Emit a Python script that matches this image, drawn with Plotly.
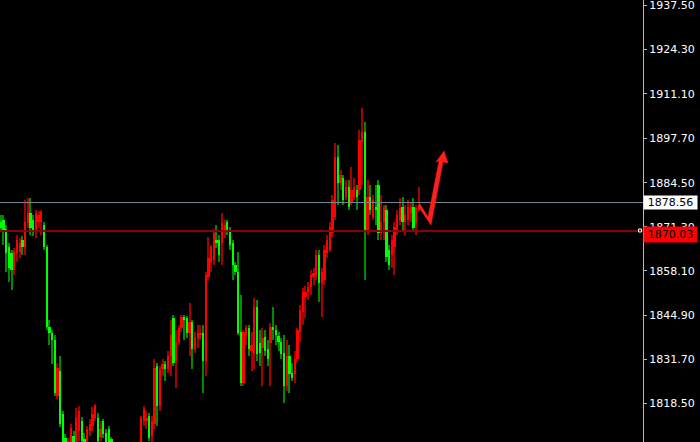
import plotly.graph_objects as go

# ---- data ----
opens = [1872.7, 1873.3, 1870.6, 1865.2, 1863.4, 1858.3, 1863.4, 1863.7, 1867.3, 1865.2,
         1872.4, 1875.4, 1873.3, 1869.7, 1872.7, 1872.7, 1871.8, 1865.2, 1841.2, 1839.4,
         1837.3, 1820.8, 1828.3, 1815.4, 1808.2, 1804.3, 1805.8, 1808.8, 1807.3, 1810.3,
         1813.3, 1807.9, 1807.3, 1810.3, 1811.8, 1814.2, 1814.2, 1808.5, 1813.3, 1809.7,
         1810.9, 1807.9, 1805.0, 1801.5, 1798.2, 1800.8, 1796.3, 1798.9, 1801.8, 1799.1,
         1803.5, 1804.8, 1805.8, 1813.3, 1813.3, 1814.8, 1808.8, 1812.4, 1829.8, 1817.8,
         1828.9, 1830.4, 1828.9, 1832.8, 1843.9, 1831.3, 1836.7, 1840.9, 1844.2, 1843.9,
         1839.4, 1842.7, 1834.9, 1837.9, 1838.8, 1839.4, 1831.3, 1856.2, 1860.7, 1861.3,
         1867.3, 1867.3, 1866.4, 1869.7, 1872.7, 1870.3, 1866.4, 1859.8, 1857.7, 1839.7,
         1824.7, 1838.8, 1840.9, 1834.3, 1833.4, 1847.2, 1836.4, 1835.2, 1838.2, 1834.9,
         1836.4, 1841.2, 1840.3, 1838.5, 1836.7, 1833.7, 1823.8, 1832.8, 1827.7, 1827.4,
         1831.9, 1839.7, 1845.7, 1850.2, 1851.7, 1853.2, 1856.2, 1856.8, 1862.8, 1854.4,
         1855.3, 1863.4, 1864.3, 1869.4, 1874.2, 1892.2, 1884.4, 1885.9, 1880.2, 1883.2,
         1878.7, 1880.2, 1882.3, 1882.3, 1896.7, 1899.7, 1870.3, 1880.2, 1874.2, 1877.2,
         1883.8, 1869.4, 1872.7, 1876.3, 1864.3, 1862.8, 1865.2, 1870.3, 1873.3, 1877.2,
         1872.7, 1873.3, 1875.4, 1877.2, 1872.4, 1876.3]
highs = [1874.8, 1874.8, 1871.8, 1866.4, 1864.3, 1864.9, 1868.8, 1867.9, 1868.5, 1879.3,
         1879.9, 1879.9, 1874.8, 1876.3, 1876.0, 1876.3, 1872.7, 1865.8, 1843.3, 1840.3,
         1838.8, 1830.7, 1832.8, 1816.3, 1809.4, 1808.2, 1812.4, 1810.3, 1817.2, 1817.8,
         1814.5, 1809.7, 1811.8, 1813.9, 1817.5, 1818.4, 1815.7, 1813.3, 1813.9, 1810.9,
         1811.8, 1808.5, 1805.8, 1802.6, 1801.9, 1802.0, 1799.6, 1803.1, 1802.5, 1804.4,
         1805.9, 1806.2, 1814.8, 1817.8, 1816.3, 1815.7, 1814.8, 1831.9, 1830.7, 1829.8,
         1831.9, 1831.3, 1834.3, 1843.3, 1844.8, 1840.3, 1841.8, 1844.8, 1844.8, 1844.5,
         1848.4, 1843.3, 1839.7, 1841.8, 1841.8, 1841.8, 1857.7, 1868.2, 1865.8, 1870.3,
         1871.8, 1868.8, 1875.4, 1873.3, 1873.3, 1871.2, 1867.3, 1860.7, 1863.7, 1850.8,
         1840.3, 1841.8, 1841.8, 1839.7, 1849.9, 1849.3, 1840.3, 1840.9, 1840.3, 1837.3,
         1842.4, 1847.2, 1841.8, 1839.7, 1837.9, 1838.8, 1837.3, 1835.8, 1830.7, 1834.3,
         1840.9, 1847.8, 1852.9, 1853.5, 1854.7, 1858.3, 1858.9, 1864.3, 1864.3, 1858.9,
         1865.8, 1868.8, 1872.7, 1880.8, 1896.4, 1895.8, 1888.3, 1886.8, 1885.3, 1885.3,
         1889.2, 1885.9, 1883.8, 1900.3, 1906.9, 1902.7, 1885.3, 1883.8, 1880.8, 1883.8,
         1885.3, 1880.8, 1877.8, 1877.8, 1865.8, 1868.8, 1872.7, 1876.3, 1879.9, 1880.2,
         1877.8, 1879.3, 1878.4, 1879.9, 1877.8, 1883.2]
lows = [1869.7, 1865.8, 1857.7, 1854.7, 1852.3, 1856.8, 1860.7, 1861.9, 1862.8, 1862.8,
        1870.9, 1868.8, 1868.5, 1867.9, 1870.9, 1868.8, 1864.3, 1840.3, 1835.8, 1830.4,
        1820.8, 1819.9, 1811.5, 1804.3, 1802.8, 1802.8, 1803.7, 1803.7, 1805.8, 1807.3,
        1805.8, 1804.3, 1805.8, 1808.8, 1810.3, 1813.3, 1805.8, 1807.3, 1808.2, 1804.9,
        1804.3, 1803.7, 1800.2, 1797.0, 1796.5, 1795.4, 1794.8, 1797.7, 1797.9, 1798.3,
        1801.6, 1801.0, 1804.3, 1811.8, 1810.9, 1807.3, 1806.7, 1810.9, 1811.8, 1816.3,
        1826.8, 1825.3, 1827.7, 1826.8, 1829.8, 1823.2, 1835.8, 1839.7, 1837.3, 1837.9,
        1832.8, 1828.9, 1833.7, 1835.2, 1837.3, 1821.7, 1826.8, 1855.3, 1857.7, 1859.8,
        1864.9, 1860.7, 1859.8, 1867.9, 1868.8, 1864.3, 1855.3, 1856.8, 1838.8, 1823.8,
        1823.8, 1835.8, 1832.8, 1828.3, 1828.9, 1831.3, 1829.8, 1823.8, 1832.8, 1829.8,
        1823.8, 1837.3, 1835.8, 1834.3, 1831.9, 1818.7, 1822.3, 1821.7, 1825.3, 1824.7,
        1830.7, 1836.7, 1841.8, 1843.9, 1849.3, 1850.8, 1853.8, 1855.3, 1848.7, 1844.2,
        1853.8, 1861.9, 1863.7, 1868.2, 1873.3, 1877.8, 1882.3, 1877.8, 1879.3, 1876.3,
        1877.8, 1879.3, 1876.3, 1880.8, 1883.8, 1855.3, 1868.8, 1874.8, 1873.3, 1871.8,
        1867.3, 1867.3, 1867.3, 1860.7, 1858.3, 1858.9, 1856.8, 1868.8, 1871.8, 1870.3,
        1868.8, 1871.8, 1872.7, 1869.7, 1868.8, 1875.7]
closes = [1870.9, 1869.7, 1863.4, 1858.9, 1858.3, 1863.7, 1867.3, 1866.4, 1865.2, 1872.7,
          1875.4, 1870.9, 1870.3, 1875.4, 1874.8, 1875.7, 1865.2, 1841.2, 1839.4, 1837.3,
          1821.7, 1829.2, 1812.4, 1805.8, 1804.9, 1807.3, 1811.2, 1805.2, 1814.2, 1816.3,
          1807.3, 1805.5, 1810.9, 1812.4, 1815.4, 1817.8, 1807.3, 1810.9, 1809.4, 1806.7,
          1805.8, 1804.9, 1801.5, 1798.2, 1800.8, 1796.3, 1798.9, 1801.8, 1799.1, 1803.5,
          1804.8, 1802.4, 1814.2, 1816.9, 1814.2, 1808.2, 1813.3, 1829.2, 1817.8, 1828.9,
          1830.4, 1828.9, 1832.8, 1838.8, 1830.7, 1836.7, 1840.9, 1844.2, 1843.3, 1839.4,
          1842.7, 1834.9, 1838.2, 1839.4, 1839.4, 1831.3, 1856.8, 1861.9, 1865.2, 1869.4,
          1866.4, 1862.8, 1872.4, 1871.8, 1870.3, 1865.8, 1859.8, 1857.7, 1839.4, 1824.7,
          1839.7, 1840.9, 1834.9, 1835.8, 1847.2, 1833.4, 1833.7, 1837.9, 1834.3, 1831.9,
          1841.2, 1840.3, 1838.8, 1836.7, 1833.4, 1823.8, 1832.8, 1827.4, 1826.2, 1831.9,
          1840.3, 1846.3, 1851.7, 1851.7, 1853.2, 1856.8, 1857.4, 1862.8, 1854.4, 1857.7,
          1864.3, 1867.3, 1871.2, 1879.3, 1892.2, 1884.4, 1886.8, 1879.3, 1883.2, 1877.2,
          1882.3, 1883.2, 1880.2, 1897.3, 1899.7, 1870.3, 1880.2, 1876.3, 1879.3, 1876.3,
          1869.4, 1872.7, 1877.2, 1862.2, 1859.8, 1867.3, 1871.2, 1874.8, 1876.9, 1872.7,
          1874.8, 1877.2, 1877.2, 1870.9, 1876.9, 1877.2]

tick_vals = [1818.5, 1831.7, 1844.9, 1858.1, 1871.3, 1884.5, 1897.7, 1911.1, 1924.3, 1937.5]
tick_text = ["1818.50", "1831.70", "1844.90", "1858.10", "1871.30",
             "1884.50", "1897.70", "1911.10", "1924.30", "1937.50"]
grey_level = 1878.56
red_level = 1870.03

# ---- figure ----
n = len(opens)
xs = list(range(n))
up_idx = [i for i in xs if closes[i] >= opens[i]]
dn_idx = [i for i in xs if closes[i] < opens[i]]

UP_BODY, UP_WICK = "#FF0000", "#A80000"
DN_BODY, DN_WICK = "#00FF00", "#008A00"

fig = go.Figure()


def add_wicks(idx, wick_col):
    fig.add_trace(go.Bar(
        x=[xs[i] for i in idx],
        base=[lows[i] for i in idx],
        y=[highs[i] - lows[i] for i in idx],
        width=0.42, marker=dict(color=wick_col, line=dict(width=0)),
        hoverinfo="skip", showlegend=False))


def add_body(idx, body_col):
    fig.add_trace(go.Bar(
        x=[xs[i] for i in idx],
        base=[min(opens[i], closes[i]) for i in idx],
        y=[max(abs(closes[i] - opens[i]), 0.45) for i in idx],
        width=0.85, marker=dict(color=body_col, line=dict(width=0)),
        hoverinfo="skip", showlegend=False))


add_wicks(up_idx, UP_WICK)
add_wicks(dn_idx, DN_WICK)
add_body(up_idx, UP_BODY)
add_body(dn_idx, DN_BODY)

PLOT_W, PLOT_H = 643, 442
slot = 418 / (n - 1)
x0 = -0.3
x1 = x0 + PLOT_W / slot

fig.add_shape(type="line", xref="paper", yref="y", x0=0, x1=1,
              y0=grey_level, y1=grey_level, line=dict(color="#7A8896", width=1))
fig.add_shape(type="line", xref="paper", yref="y", x0=0, x1=1,
              y0=red_level, y1=red_level, line=dict(color="#8B0000", width=2))


def P(px, py):
    return px / PLOT_W, 1 - py / PLOT_H


# small white marker where the red level meets the price scale
mx0, my0 = P(638.5, 232)
mx1, my1 = P(641.5, 229)
fig.add_shape(type="rect", xref="paper", yref="paper", x0=mx0, x1=mx1,
              y0=my0, y1=my1, line=dict(color="#FFFFFF", width=1),
              fillcolor="#8B0000")

arrow_px = [(420, 204), (418, 206), (431, 225), (443, 162), (448, 163),
            (444, 151), (436, 162), (439, 161), (428, 217)]
pts = [P(a, b) for a, b in arrow_px]
path = "M " + " L ".join(f"{a:.5f},{b:.5f}" for a, b in pts) + " Z"
fig.add_shape(type="path", xref="paper", yref="paper", path=path,
              fillcolor="#FF1E1E", line=dict(color="#FF1E1E", width=0.5))

fnt = "DejaVu Sans"
fig.add_annotation(xref="paper", yref="y", x=1, y=grey_level, xanchor="left",
                   yanchor="middle", text=f"{grey_level:.2f}", showarrow=False,
                   font=dict(family=fnt, size=11, color="#000000"),
                   bgcolor="#FFFFFF", width=51, height=11, borderpad=1,
                   align="center", yshift=0)
fig.add_annotation(xref="paper", yref="y", x=1, y=red_level, xanchor="left",
                   yanchor="middle", text=f"{red_level:.2f}", showarrow=False,
                   font=dict(family=fnt, size=11, color="#000000"),
                   bgcolor="#FF0000", width=51, height=13, borderpad=1,
                   align="center", yshift=-3)

fig.update_layout(
    width=700, height=442,
    margin=dict(l=0, r=57, t=0, b=0, autoexpand=False),
    paper_bgcolor="#000000", plot_bgcolor="#000000",
    barmode="overlay", bargap=0,
    showlegend=False,
    xaxis=dict(range=[x0, x1], visible=False, showgrid=False, zeroline=False,
               fixedrange=True),
    yaxis=dict(range=[1806.93, 1939.15], side="right", showgrid=False,
               zeroline=False, showline=True, linecolor="#B8B8B8", linewidth=1,
               ticks="outside", ticklen=3, tickcolor="#B8B8B8",
               tickvals=tick_vals, ticktext=tick_text,
               tickfont=dict(family=fnt, size=11, color="#FFFFFF"),
               ticklabeloverflow="allow",
               fixedrange=True, automargin=False),
)

fig.write_html("out.html", config={"displayModeBar": False},
               post_script="document.body.style.margin='0';"
                           "document.body.style.background='#000';")
